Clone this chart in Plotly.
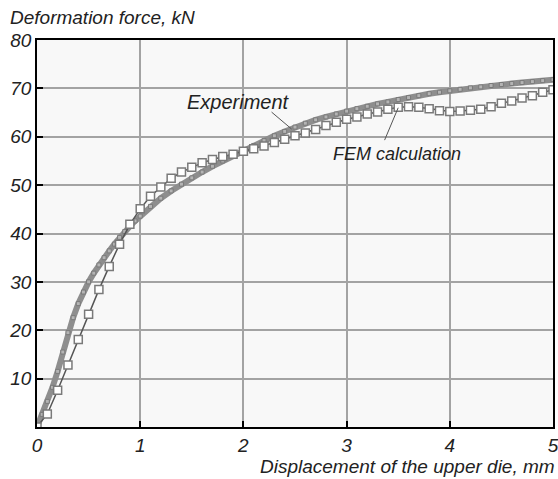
import plotly.graph_objects as go

# ---- data ----
exp_x = [0.0, 0.05, 0.1, 0.15, 0.2, 0.25, 0.3, 0.35, 0.4, 0.45, 0.5, 0.55, 0.6, 0.65, 0.7, 0.75,
         0.8, 0.85, 0.9, 0.95, 1.0, 1.1, 1.2, 1.3, 1.4, 1.5, 1.6, 1.7, 1.8, 1.9, 2.0, 2.1, 2.2,
         2.3, 2.4, 2.5, 2.6, 2.7, 2.8, 2.9, 3.0, 3.1, 3.2, 3.3, 3.4, 3.5, 3.6, 3.7, 3.8, 3.9,
         4.0, 4.1, 4.2, 4.3, 4.4, 4.5, 4.6, 4.7, 4.8, 4.9, 5.0]
exp_y = [0.0, 2.6, 5.3, 8.2, 11.5, 15.5, 19.5, 22.6, 25.5, 27.9, 30.0, 31.8, 33.5, 35.0, 36.4, 37.8,
         39.2, 40.4, 41.5, 42.6, 43.6, 45.6, 47.3, 48.8, 50.2, 51.5, 52.7, 53.9, 55.0, 56.1, 57.2,
         58.2, 59.2, 60.2, 61.1, 62.0, 62.8, 63.5, 64.1, 64.7, 65.3, 65.8, 66.3, 66.8, 67.2, 67.7,
         68.1, 68.5, 68.9, 69.2, 69.5, 69.8, 70.1, 70.3, 70.6, 70.8, 71.0, 71.2, 71.4, 71.6, 71.8]

fem_x = [0.0, 0.1, 0.2, 0.3, 0.4, 0.5, 0.6, 0.7, 0.8, 0.9, 1.0, 1.1, 1.2, 1.3, 1.4, 1.5, 1.6,
         1.7, 1.8, 1.9, 2.0, 2.1, 2.2, 2.3, 2.4, 2.5, 2.6, 2.7, 2.8, 2.9, 3.0, 3.1, 3.2, 3.3,
         3.4, 3.5, 3.6, 3.7, 3.8, 3.9, 4.0, 4.1, 4.2, 4.3, 4.4, 4.5, 4.6, 4.7, 4.8, 4.9, 5.0]
fem_y = [0.0, 2.7, 7.6, 12.8, 18.1, 23.3, 28.4, 33.2, 37.8, 41.9, 45.1, 47.7, 49.6, 51.4, 52.7,
         53.7, 54.6, 55.3, 55.9, 56.4, 57.0, 57.5, 58.1, 58.8, 59.5, 60.2, 60.8, 61.5, 62.3, 63.0,
         63.6, 64.1, 64.7, 65.1, 65.7, 66.1, 66.2, 66.1, 65.8, 65.4, 65.2, 65.3, 65.5, 65.7, 66.2,
         66.9, 67.4, 68.0, 68.5, 69.2, 69.7]

x_ticks = [0, 1, 2, 3, 4, 5]
y_ticks = [10, 20, 30, 40, 50, 60, 70, 80]

y_title = "Deformation force, kN"
x_title = "Displacement of the upper die, mm"
exp_label = "Experiment"
fem_label = "FEM calculation"

FONT = "Liberation Sans, Arial, sans-serif"

fig = go.Figure()
fig.add_trace(go.Scatter(
    x=exp_x, y=exp_y, mode="lines+markers", name=exp_label,
    line=dict(color="#8e8e8e", width=6),
    marker=dict(symbol="square", size=4, color="#b4b4b4", line=dict(color="#7a7a7a", width=1)),
))
fig.add_trace(go.Scatter(
    x=fem_x, y=fem_y, mode="lines+markers", name=fem_label,
    line=dict(color="#555555", width=1.5),
    marker=dict(symbol="square", size=8, color="white", line=dict(color="#7a7a7a", width=1.5)),
))

# leader lines
fig.add_shape(type="line", x0=2.273, y0=65.1, x1=2.467, y1=61.6,
              line=dict(color="#555555", width=1))
fig.add_shape(type="line", x0=3.50, y0=66.0, x1=3.368, y1=59.3,
              line=dict(color="#555555", width=1))

fig.add_annotation(x=1.95, y=67.15, text=exp_label, showarrow=False,
                   xanchor="center", yanchor="middle",
                   font=dict(family=FONT, size=20, color="#222", style="italic"))
fig.add_annotation(x=3.484, y=56.4, text=fem_label, showarrow=False,
                   xanchor="center", yanchor="middle",
                   font=dict(family=FONT, size=18, color="#222", style="italic"))

fig.add_annotation(xref="paper", yref="paper", x=-0.056, y=1.059, text=y_title,
                   showarrow=False, xanchor="left", yanchor="middle",
                   font=dict(family=FONT, size=19, color="#222", style="italic"))
fig.add_annotation(xref="paper", yref="paper", x=1.008, y=-0.103, text=x_title,
                   showarrow=False, xanchor="right", yanchor="middle",
                   font=dict(family=FONT, size=19, color="#222", style="italic"))

axis_common = dict(
    showline=True, linecolor="black", linewidth=1.5, mirror=True,
    showgrid=True, gridcolor="#a3a3a3", gridwidth=1.5,
    ticks="inside", ticklen=6, tickwidth=1.5, tickcolor="black",
    zeroline=False, automargin=False, ticklabeloverflow="allow",
    tickfont=dict(family=FONT, size=19, color="#222", style="italic"),
)

fig.update_xaxes(range=[0, 5], tickvals=x_ticks, **axis_common)
fig.update_yaxes(range=[0, 80], tickvals=y_ticks, **axis_common)

fig.update_layout(
    width=558, height=479,
    margin=dict(l=37, r=5, t=40, b=52),
    paper_bgcolor="white", plot_bgcolor="#f8f8f8",
    showlegend=False,
)

fig.write_html("out.html")
